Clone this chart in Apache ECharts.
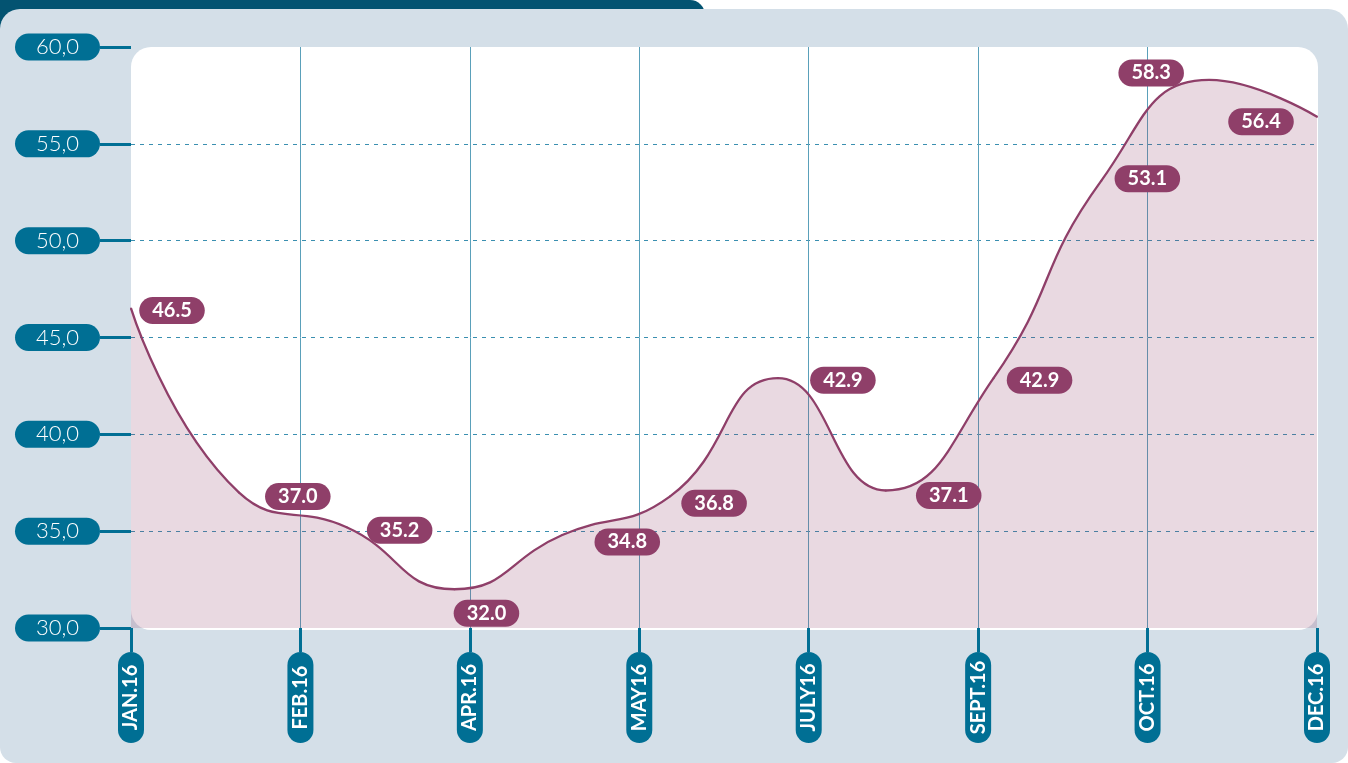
<!DOCTYPE html>
<html>
<head>
<meta charset="utf-8">
<title>2016</title>
<script src="https://cdn.jsdelivr.net/npm/echarts@6.0.0/dist/echarts.min.js"></script>
<style>
	html, body { margin: 0; padding: 0; background: #fff; }
	#chart { width: 1348px; height: 763px; }
</style>
</head>
<body>
<div id="chart"></div>
<script>
	// monthly values (one point per month)
	var months = ['JAN', 'FEB', 'MAR', 'APR', 'MAY', 'JUN', 'JUL', 'AUG', 'SEP', 'OCT', 'NOV', 'DEC'];
	var values = [46.5, 37.0, 35.2, 32.0, 34.8, 36.8, 42.9, 37.1, 42.9, 53.1, 58.3, 56.4];

	// labels printed under the chart
	var tickLabels = ['JAN.16', 'FEB.16', 'APR.16', 'MAY16', 'JULY16', 'SEPT.16', 'OCT.16', 'DEC.16'];
	var yMin = 30, yMax = 60, yStep = 5;

	// where each value badge sits relative to its point (px)
	var labelOffsets = [[41, 2], [59, 4], [53, 3], [32, 24], [65, 7], [44, 7], [65, 2], [63, 5], [46, 2], [46, -2], [-58, -7], [-56, 5]];

	var teal = '#006f94';
	var plum = '#8f3f69';
	var font = 'Lato';

	var seriesData = values.map(function (v, i) {
		return { value: v, label: { offset: labelOffsets[i] } };
	});

	var myChart = echarts.init(document.getElementById('chart'));
	var option = {
		animation: false,
		backgroundColor: '#fff',
		graphic: [
			{ type: 'rect', z: -10, shape: { x: 0, y: 0, width: 705, height: 40, r: [0, 15, 0, 0] }, style: { fill: '#035371' } },
			{ type: 'rect', z: -9, shape: { x: 0, y: 9, width: 1348, height: 754, r: [20, 20, 16, 16] }, style: { fill: '#d4dfe8' } },
			{ type: 'rect', z: -8, shape: { x: 131, y: 47, width: 1187, height: 583, r: 20 }, style: { fill: '#fff' } }
		],
		grid: { left: 131, right: 31, top: 47, bottom: 135, containLabel: false },
		xAxis: [
			{
				type: 'category',
				data: tickLabels,
				boundaryGap: false,
				axisLine: { show: false },
				axisTick: { show: true, length: 24, lineStyle: { color: teal, width: 3 } },
				splitLine: { show: true, showMinLine: false, showMaxLine: false, lineStyle: { color: '#5aa0ba', width: 1 } },
				axisLabel: {
					interval: 0,
					rotate: 90,
					margin: 24,
					formatter: function (v) { return '{p|' + v + '}'; },
					rich: {
						p: {
							width: 91, height: 26, lineHeight: 26, align: 'center',
							backgroundColor: teal, borderRadius: 13,
							color: '#fff', fontFamily: font, fontWeight: 'bold', fontSize: 20
						}
					}
				}
			},
			{
				type: 'category',
				data: months,
				boundaryGap: false,
				show: false
			}
		],
		yAxis: {
			type: 'value',
			min: yMin,
			max: yMax,
			interval: yStep,
			axisLine: { show: false },
			axisTick: { show: true, length: 31, lineStyle: { color: teal, width: 3 } },
			splitLine: { show: true, showMinLine: false, showMaxLine: false, lineStyle: { color: '#3a8fb0', width: 1, type: [4, 5] } },
			axisLabel: {
				margin: 31,
				formatter: function (v) { return '{q|' + v.toFixed(1).replace('.', ',') + '}'; },
				rich: {
					q: {
						width: 85, height: 27, lineHeight: 27, align: 'center',
						backgroundColor: teal, borderRadius: 13.5,
						color: '#fff', fontFamily: font, fontWeight: 300, fontSize: 22
					}
				}
			}
		},
		series: [{
			type: 'line',
			xAxisIndex: 1,
			data: seriesData,
			smooth: 0.5,
			symbol: 'circle',
			symbolSize: 2,
			showSymbol: true,
			itemStyle: { color: plum },
			lineStyle: { color: plum, width: 2.3 },
			areaStyle: { color: 'rgba(143,63,105,0.2)', opacity: 1 },
			emphasis: { disabled: true },
			label: {
				show: true,
				position: 'inside',
				formatter: function (p) { return p.value.toFixed(1); },
				color: '#fff',
				fontFamily: font,
				fontWeight: 'bold',
				fontSize: 20,
				lineHeight: 20,
				backgroundColor: plum,
				borderRadius: 14,
				padding: [4, 13, 3, 13]
			}
		}]
	};
	myChart.setOption(option);
	window.addEventListener('resize', function () { myChart.resize(); });
</script>
</body>
</html>
